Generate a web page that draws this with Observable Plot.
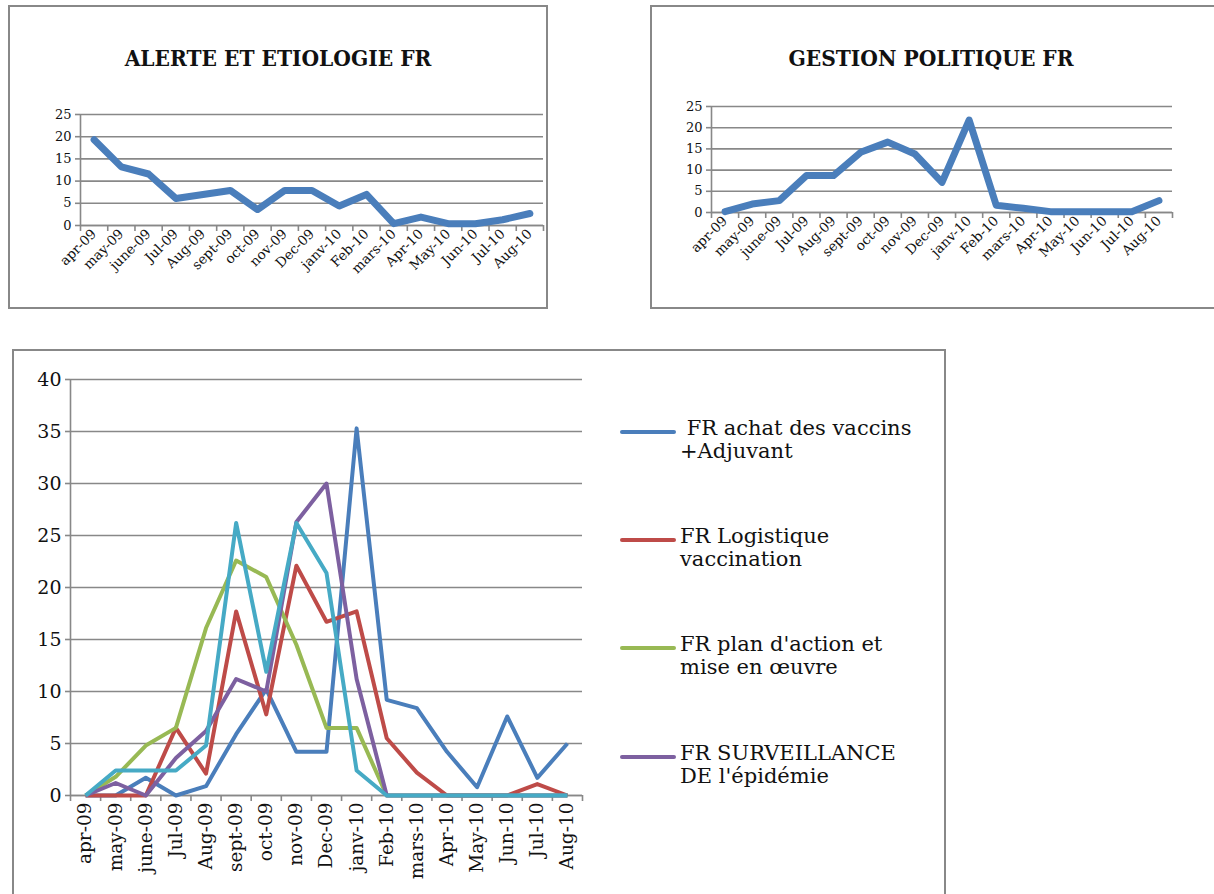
<!DOCTYPE html>
<html>
<head>
<meta charset="utf-8">
<script src="https://cdn.jsdelivr.net/npm/d3@7"></script>
<script src="https://cdn.jsdelivr.net/npm/@observablehq/plot@0.6"></script>
<style>
  body { margin: 0; background: #fff; }
  #page { position: relative; width: 1214px; height: 894px; overflow: hidden; background: #fff; font-family: "DejaVu Serif", serif; color: #111; }
  .box { position: absolute; border: 2px solid #888; box-sizing: border-box; }
  .title { position: absolute; font-family: "DejaVu Serif Condensed", "DejaVu Serif", serif; font-weight: bold; font-size: 22.5px; text-align: center; white-space: nowrap; }
  .chart { position: absolute; }
  .leg { position: absolute; font-size: 21px; line-height: 23px; white-space: nowrap; }
  .swatch { position: absolute; width: 56px; height: 4px; border-radius: 2px; }
</style>
</head>
<body>
<div id="page"></div>
<script>
// ---- data ----
const months = ["apr-09","may-09","june-09","Jul-09","Aug-09","sept-09","oct-09","nov-09","Dec-09","janv-10","Feb-10","mars-10","Apr-10","May-10","Jun-10","Jul-10","Aug-10"];

const alerteTitle = "ALERTE ET ETIOLOGIE FR";
const alerteValues = [19.3, 13.2, 11.6, 6.1, 7.0, 7.9, 3.6, 7.9, 7.9, 4.4, 7.0, 0.4, 1.9, 0.4, 0.4, 1.3, 2.7];

const gestionTitle = "GESTION POLITIQUE FR";
const gestionValues = [0.2, 2.0, 2.8, 8.7, 8.7, 14.2, 16.6, 13.8, 7.1, 21.8, 1.7, 1.0, 0.2, 0.2, 0.2, 0.2, 2.8];

const seriesNames = [" FR achat des vaccins +Adjuvant", "FR Logistique vaccination", "FR plan d'action et mise en œuvre", "FR SURVEILLANCE DE l'épidémie", "FR (série 5)"];
const legendLines = [[" FR achat des vaccins", "+Adjuvant"], ["FR Logistique", "vaccination"], ["FR plan d'action et", "mise en œuvre"], ["FR SURVEILLANCE", "DE l'épidémie"]];
const seriesColors = ["#4a7ebb", "#be4b48", "#98b954", "#7d60a0", "#46aac5"];
const achatValues = [0, 0, 1.7, 0, 0.9, 5.9, 10.2, 4.2, 4.2, 35.3, 9.2, 8.4, 4.2, 0.8, 7.6, 1.7, 5.0];
const logistiqueValues = [0, 0, 0, 6.5, 2.1, 17.7, 7.8, 22.1, 16.7, 17.7, 5.5, 2.2, 0, 0, 0, 1.1, 0];
const planValues = [0, 1.8, 4.8, 6.5, 16.1, 22.6, 21.0, 14.5, 6.5, 6.5, 0, 0, 0, 0, 0, 0, 0];
const surveillanceValues = [0, 1.2, 0, 3.6, 6.2, 11.2, 10.0, 26.3, 30.0, 11.2, 0, 0, 0, 0, 0, 0, 0];
const serie5Values = [0, 2.4, 2.4, 2.4, 4.8, 26.2, 11.9, 26.2, 21.4, 2.4, 0, 0, 0, 0, 0, 0, 0];

const smallTicks = [0, 5, 10, 15, 20, 25];
const bigTicks = [0, 5, 10, 15, 20, 25, 30, 35, 40];

// ---- helpers ----
const page = document.getElementById("page");
function add(html, cls, style) {
  const d = document.createElement("div");
  d.className = cls;
  Object.assign(d.style, style);
  if (html != null) d.innerHTML = html;
  page.appendChild(d);
  return d;
}
const grey = "#888";
const idx = d3.range(months.length);
const bounds = d3.range(months.length + 1).map(i => i - 0.5);

function baseMarks(yTicks, fontSize, xFontSize, rotate, padding) {
  return [
    Plot.gridY(yTicks, {stroke: grey, strokeOpacity: 1, strokeWidth: 1.6}),
    Plot.ruleX([-0.5], {stroke: grey, strokeWidth: 1.6}),
    Plot.ruleY([0], {stroke: grey, strokeWidth: 1.6}),
    Plot.axisY({ticks: yTicks, tickSize: 5, tickPadding: 4, stroke: grey, strokeWidth: 1.6, fill: "#111", fontSize, label: null}),
    Plot.axisX({ticks: bounds, tickSize: 6, tickFormat: () => "", stroke: grey, strokeWidth: 1.6, label: null}),
    Plot.axisX({ticks: idx, tickSize: 0, tickFormat: i => months[i], tickRotate: rotate, tickPadding: padding, fill: "#111", fontSize: xFontSize, label: null})
  ];
}

function smallChart(values, opts) {
  const data = values.map((v, i) => ({i, v}));
  return Plot.plot({
    width: opts.width, height: opts.height,
    marginLeft: opts.ml, marginRight: opts.mr, marginTop: opts.mt, marginBottom: opts.mb,
    style: {fontFamily: "DejaVu Serif, serif", background: "transparent", overflow: "visible"},
    x: {type: "linear", domain: [-0.5, months.length - 0.5], axis: null, label: null},
    y: {domain: [0, 25], axis: null, label: null},
    marks: [
      ...baseMarks(smallTicks, 13, 13.5, -45, 6),
      Plot.line(data, {x: "i", y: "v", stroke: seriesColors[0], strokeWidth: 7, strokeLinecap: "round", strokeLinejoin: "round"})
    ]
  });
}

// ---- top-left ----
add(null, "box", {left: "8px", top: "5px", width: "540px", height: "304px"});
add(alerteTitle, "title", {left: "8px", width: "540px", top: "45px"});
const c1 = smallChart(alerteValues, {width: 539, height: 302, ml: 72, mr: 4, mt: 108, mb: 83});
add(null, "chart", {left: "8px", top: "6px"}).appendChild(c1);

// ---- top-right ----
add(null, "box", {left: "650px", top: "5px", width: "600px", height: "304px"});
add(gestionTitle, "title", {left: "650px", width: "562px", top: "45px"});
const c2 = smallChart(gestionValues, {width: 530, height: 302, ml: 61, mr: 8, mt: 100, mb: 96});
add(null, "chart", {left: "650px", top: "6px"}).appendChild(c2);

// ---- bottom ----
add(null, "box", {left: "12px", top: "349px", width: "934px", height: "600px"});
const allSeries = [achatValues, logistiqueValues, planValues, surveillanceValues, serie5Values];
const rows = allSeries.flatMap((vals, s) => vals.map((v, i) => ({i, v, s: seriesNames[s]})));
const c3 = Plot.plot({
  width: 600, height: 544,
  marginLeft: 58, marginRight: 30, marginTop: 29, marginBottom: 99,
  style: {fontFamily: "DejaVu Serif, serif", background: "transparent", overflow: "visible"},
  x: {type: "linear", domain: [-0.5, months.length - 0.5], axis: null, label: null},
  y: {domain: [0, 40], axis: null, label: null},
  color: {domain: seriesNames, range: seriesColors},
  marks: [
    ...baseMarks(bigTicks, 19, 18.5, -90, 7),
    Plot.line(rows, {x: "i", y: "v", z: "s", stroke: "s", strokeWidth: 4, strokeLinejoin: "round", strokeLinecap: "butt"})
  ]
});
add(null, "chart", {left: "12px", top: "350px"}).appendChild(c3);

// ---- legend ----
const legY = [432, 540, 648, 757];
legendLines.forEach((lines, k) => {
  add(null, "swatch", {left: "620px", top: (legY[k] - 2) + "px", background: seriesColors[k]});
  add(lines.map(t => t.replace(/ /g, "&nbsp;")).join("<br>"), "leg", {left: "680px", top: (legY[k] - 15) + "px"});
});
</script>
</body>
</html>
